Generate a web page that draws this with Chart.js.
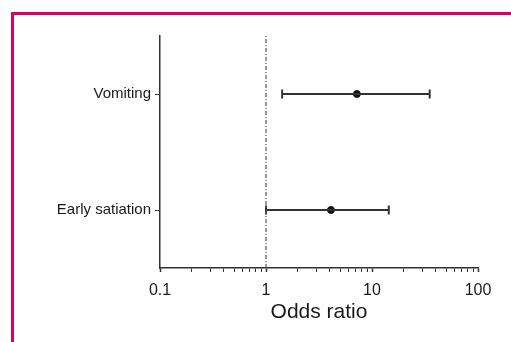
<!DOCTYPE html>
<html>
<head>
<meta charset="utf-8">
<script src="https://cdn.jsdelivr.net/npm/chart.js@4"></script>
<style>
    html, body { margin: 0; padding: 0; background: #fff; }
    #wrap { position: relative; width: 511px; height: 342px; overflow: hidden; }
    #frame {
        position: absolute; left: 11px; top: 12px; right: 0; bottom: 0;
        border-left: 3px solid #d9006c; border-top: 3px solid #d9006c;
    }
    canvas { position: absolute; left: 0; top: 0; }
</style>
</head>
<body>
<div id="wrap">
    <div id="frame"></div>
    <canvas id="chart" width="511" height="342"></canvas>
</div>
<script>
// odds ratios with 95% CI
const outcomes = ["Vomiting", "Early satiation"];
const rowPos = [3, 1];
const oddsRatio = [7.2, 4.1];
const ciLow = [1.42, 1.0];
const ciHigh = [35, 14.4];
const majorTicks = [0.1, 1, 10, 100];

const ink = "#333";

const datasets = [];

// reference line at OR = 1
datasets.push({
    type: "line",
    data: [{ x: 1, y: 0 }, { x: 1, y: 4 }],
    borderColor: "#555",
    borderWidth: 1.2,
    borderDash: [4, 2, 1, 2],
    pointRadius: 0,
});

outcomes.forEach((name, i) => {
    // CI whisker with end caps
    datasets.push({
        type: "line",
        data: [{ x: ciLow[i], y: rowPos[i] }, { x: ciHigh[i], y: rowPos[i] }],
        borderColor: ink,
        borderWidth: 2,
        pointStyle: "line",
        rotation: 90,
        pointRadius: 4.5,
        pointBorderWidth: 2,
        pointBorderColor: ink,
    });
    // point estimate
    datasets.push({
        type: "scatter",
        data: [{ x: oddsRatio[i], y: rowPos[i] }],
        backgroundColor: "#111",
        borderColor: "#111",
        pointRadius: 3.5,
    });
});

new Chart(document.getElementById("chart"), {
    type: "scatter",
    data: { datasets },
    options: {
        responsive: false,
        animation: false,
        layout: { padding: { top: 36, right: 33, left: 0, bottom: 0 } },
        plugins: { legend: { display: false }, tooltip: { enabled: false } },
        scales: {
            x: {
                type: "logarithmic",
                min: 0.1,
                max: 100,
                afterFit: (s) => { s.height = 74; },
                afterBuildTicks: (s) => {
                    const t = [];
                    for (let d = 0.1; d < 100; d *= 10) {
                        for (let k = 1; k < 10; k++) t.push({ value: +(d * k).toPrecision(3) });
                    }
                    t.push({ value: 100 });
                    s.ticks = t;
                },
                border: { color: ink, width: 1.5 },
                grid: {
                    drawOnChartArea: false,
                    tickLength: 4,
                    tickColor: ink,
                    tickWidth: (c) => (majorTicks.includes(c.tick.value) ? 1.5 : 1),
                },
                ticks: {
                    autoSkip: false,
                    maxRotation: 0,
                    padding: 9,
                    color: "#1a1a1a",
                    font: { family: "Liberation Sans, Arial", size: 16 },
                    callback: (v) => (majorTicks.includes(v) ? String(v) : ""),
                },
                title: {
                    display: true,
                    text: "Odds ratio",
                    color: "#1a1a1a",
                    font: { family: "Liberation Sans, Arial", size: 21 },
                    padding: { top: 2, bottom: 17 },
                },
            },
            y: {
                type: "linear",
                min: 0,
                max: 4,
                afterFit: (s) => { s.width = 160; },
                afterBuildTicks: (s) => {
                    s.ticks = rowPos.map((v) => ({ value: v }));
                },
                border: { color: ink, width: 1.5 },
                grid: { drawOnChartArea: false, tickLength: 5, tickColor: ink },
                ticks: {
                    padding: 4,
                    color: "#1a1a1a",
                    font: { family: "Liberation Sans, Arial", size: 15 },
                    callback: (v) => outcomes[rowPos.indexOf(v)],
                },
            },
        },
    },
});
</script>
</body>
</html>
